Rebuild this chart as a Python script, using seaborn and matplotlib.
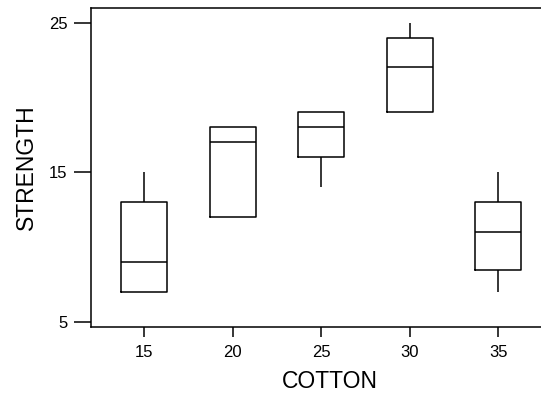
import numpy as np
import pandas as pd
import matplotlib
matplotlib.use("Agg")
import matplotlib.pyplot as plt
import seaborn as sns

cotton_levels = ["15", "20", "25", "30", "35"]
strength_15 = [7, 7, 15, 11, 9]
strength_20 = [12, 17, 12, 18, 18]
strength_25 = [14, 18, 18, 19, 19]
strength_30 = [19, 25, 22, 19, 23]
strength_35 = [7, 10, 11, 15, 11]
y_ticks = [5, 15, 25]

groups = [strength_15, strength_20, strength_25, strength_30, strength_35]
df = pd.DataFrame({
    "COTTON": [lvl for lvl, g in zip(cotton_levels, groups) for _ in g],
    "STRENGTH": [v for g in groups for v in g],
})

sns.set_theme(style="white")
plt.rcParams["font.family"] = ["Liberation Sans", "DejaVu Sans"]

fig = plt.figure(figsize=(5.41, 4.0), dpi=100)
ax = fig.add_axes([0.168, 0.1825, 0.884, 0.7975])

# Minitab-style quartiles ((n+1)p positions)
_orig_pct = np.percentile
def _pct(a, q, *args, **kw):
    kw.setdefault("method", "weibull")
    return _orig_pct(a, q, *args, **kw)
np.percentile = _pct
sns.boxplot(data=df, x="COTTON", y="STRENGTH", order=cotton_levels, ax=ax,
            fill=False, color="black", linecolor="black", linewidth=1.1,
            width=0.52, showcaps=False, whis=1.5,
            medianprops=dict(color="black", linewidth=1.1),
            whiskerprops=dict(color="black", linewidth=1.1),
            boxprops=dict(color="black", linewidth=1.1))
np.percentile = _orig_pct

ax.set_xlim(-0.6, 4.8)
ax.set_ylim(4.67, 25.97)
ax.set_yticks(y_ticks)
ax.set_yticklabels([str(t) for t in y_ticks])
for s in ax.spines.values():
    s.set_color("black")
    s.set_linewidth(1.1)
ax.tick_params(axis="y", direction="out", length=12, width=1.1, pad=5,
               labelsize=12, colors="black", left=True)
ax.tick_params(axis="x", direction="out", length=7, width=1.1, pad=6,
               labelsize=12, colors="black", bottom=True)
ax.set_xlabel("COTTON", fontsize=16.5, color="black", labelpad=7)
ax.set_ylabel("STRENGTH", fontsize=16.5, color="black", labelpad=8)

fig.savefig("out.png", dpi=100, facecolor="white")
